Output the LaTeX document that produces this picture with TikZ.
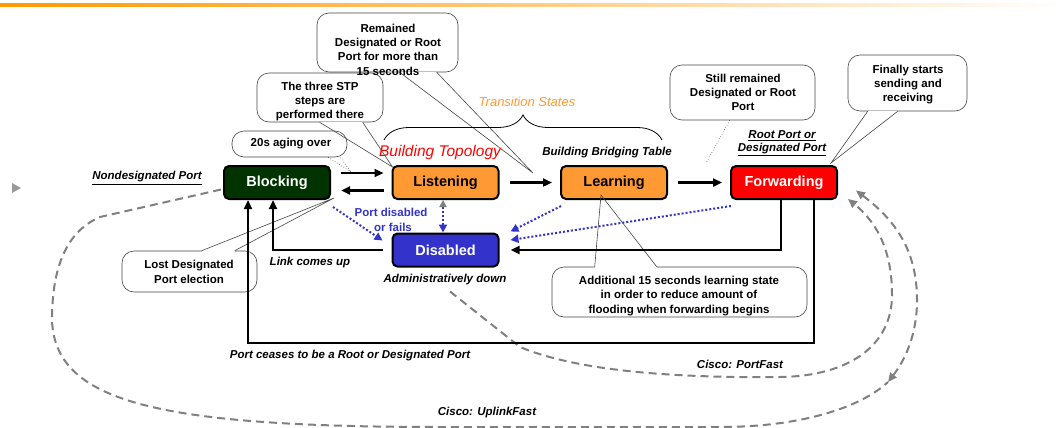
\documentclass[tikz,border=0pt]{standalone}
\usepackage{fontspec}
\setmainfont{Liberation Sans}
\usetikzlibrary{arrows.meta,calc,decorations.pathreplacing}

\definecolor{blockgreen}{RGB}{0,51,0}
\definecolor{transorange}{RGB}{255,153,51}
\definecolor{fwdred}{RGB}{255,0,0}
\definecolor{disblue}{RGB}{51,51,204}
\definecolor{dashgray}{RGB}{128,128,128}
\definecolor{calloutline}{RGB}{70,70,70}
\definecolor{barorange}{RGB}{255,153,0}

\begin{document}
\begin{tikzpicture}[x=1pt,y=-1pt,
  state/.style={draw=black, line width=2pt, rounded corners=5pt,
    minimum width=106pt, minimum height=33pt, inner sep=0pt,
    font=\fontsize{14.5}{16}\selectfont\bfseries},
  arr/.style={draw=black, line width=2.3pt, -{Triangle[length=9pt,width=8pt]}},
  bluedot/.style={draw=disblue, line width=2pt, dash pattern=on 2pt off 2pt,
    -{Triangle[length=8pt,width=8pt]}},
  graydash/.style={draw=dashgray, line width=2pt, dash pattern=on 8pt off 5pt},
  graytip/.style={-{Triangle[length=9pt,width=8pt,color=dashgray]}},
  lbl/.style={font=\fontsize{11.5}{13.5}\selectfont\bfseries\itshape, inner sep=0pt},
  callbox/.style={draw=calloutline, line width=0.6pt, fill=white,
    rounded corners=12pt, inner sep=0pt},
  calltext/.style={font=\fontsize{11.5}{14.3}\selectfont\bfseries, align=center, inner sep=0pt},
  pointer/.style={draw=calloutline, line width=0.6pt},
  gap/.style={draw=white, line width=1.6pt}
]
\useasboundingbox (0,0) rectangle (1062,428);

% header bar and bullet
\shade[left color=barorange, middle color=barorange!40!white, right color=white]
  (0,4) rectangle (1062,7);
\fill[dashgray!80] (12,183) -- (21,188) -- (12,193) -- cycle;

% state boxes (placed first so that everything can refer to them)
\path
  node[state, fill=blockgreen, text=white] (Blocking)   at (277,182.5) {Blocking}
  node[state, fill=transorange, text=black] (Listening) at (445.5,182.5) {Listening}
  node[state, fill=transorange, text=black] (Learning)  at (614,182.5) {Learning}
  node[state, fill=fwdred, text=white] (Forwarding)     at (784,182.5) {Forwarding}
  node[state, fill=disblue, text=white] (Disabled)      at (445.5,250) {Disabled};

% Cisco shortcuts (dashed)
\coordinate (ufMid) at (888,382);
\draw[graydash] ($(Blocking.west)+(-2,7)$) -- (100,217)
  .. controls (65,232) and (52,270) .. (52,320)
  .. controls (55,400) and (150,427) .. (440,427) -- (720,427)
  .. controls (800,427) and (860,408) .. (ufMid);
\draw[graydash, {Triangle[length=9pt,width=8pt,color=dashgray]}-{Triangle[length=9pt,width=8pt,color=dashgray]}]
  (ufMid) .. controls (905,360) and (917,335) .. (917,300)
  .. controls (917,250) and (895,220) .. ($(Forwarding.east)+(18,8)$);
\draw[graydash, graytip] ($(Disabled.south)+(4.5,24)$) -- (520,347)
  .. controls (580,372) and (680,378) .. (780,377)
  .. controls (850,376) and (892,345) .. (892,295)
  .. controls (892,255) and (880,225) .. ($(Forwarding.east)+(10,16.5)$);

% callouts
\node[callbox, minimum width=141pt, minimum height=59pt] (cRem) at (387.5,42.5) {};
\node[callbox, minimum width=126pt, minimum height=49pt] (cSTP) at (320,97.5) {};
\node[callbox, minimum width=115pt, minimum height=26pt] (c20s) at (289.5,144) {};
\node[callbox, minimum width=145pt, minimum height=55pt] (cStill) at (742.5,92.5) {};
\node[callbox, minimum width=119pt, minimum height=56pt] (cFin) at (907.5,83) {};
\node[callbox, minimum width=135pt, minimum height=41pt] (cLost) at (189.5,271.5) {};
\node[callbox, minimum width=255pt, minimum height=50pt] (cAdd) at (679.5,292) {};

\coordinate (tRem) at ($(Learning.west)+(-27,-9.5)$);
\coordinate (tSTP) at ($(Listening.north west)+(1,2)$);
\coordinate (t20s) at ($(Blocking.north east)+(20,7)$);
\coordinate (tStill) at ($(Forwarding.north west)+(-24,-2)$);
\coordinate (tFin) at ($(Forwarding.north east)+(-7,-2)$);
\coordinate (tLost) at ($(Blocking.south east)+(3,-2)$);
\coordinate (tAdd) at ($(Learning.south)+(-13,-5)$);

\draw[gap] ($(cRem.south west)+(83,0)$) -- ($(cRem.south west)+(120,0)$);
\draw[pointer] ($(cRem.south west)+(83,0)$) -- (tRem) -- ($(cRem.south west)+(120,0)$);
\draw[gap] ($(cSTP.south west)+(63,0)$) -- ($(cSTP.south west)+(106,0)$);
\draw[pointer] ($(cSTP.south west)+(63,0)$) -- (tSTP) -- ($(cSTP.south west)+(106,0)$);
\draw[pointer, dotted] ($(c20s.south east)+(-19,0)$) -- (t20s) -- ($(c20s.south east)+(-7,0)$);
\draw[pointer, dotted] ($(cStill.south west)+(60,0)$) -- (tStill);
\draw[gap] ($(cFin.south west)+(20,0)$) -- ($(cFin.south west)+(50,0)$);
\draw[pointer] ($(cFin.south west)+(20,0)$) -- (tFin) -- ($(cFin.south west)+(50,0)$);
\draw[gap] ($(cLost.north west)+(80,0)$) -- ($(cLost.north west)+(113,0)$);
\draw[pointer] ($(cLost.north west)+(80,0)$) -- (tLost) -- ($(cLost.north west)+(113,0)$);
\draw[gap] ($(cAdd.north west)+(43,0)$) -- ($(cAdd.north west)+(105,0)$);
\draw[pointer] ($(cAdd.north west)+(43,0)$) -- (tAdd) -- ($(cAdd.north west)+(105,0)$);

\node[calltext] at (388,49.5) {Remained\\Designated or Root\\Port for more than\\15 seconds};
\node[calltext] at (320,101.5) {The three STP\\steps are\\performed there};
\node[calltext] at (291,144) {20s aging over};
\node[calltext] at (743,92.5) {Still remained\\Designated or Root\\Port};
\node[calltext] at (908,84.5) {Finally starts\\sending and\\receiving};
\node[calltext] at (189,272) {Lost Designated\\Port election};
\node[calltext] at (679,296) {Additional 15 seconds learning state\\in order to reduce amount of\\flooding when forwarding begins};

% transition brace
\draw[line width=0.8pt, decorate, decoration={brace, amplitude=25pt}]
  (384,140) -- (662,140);

% solid transitions
\draw[arr] ($(Blocking.east)+(10,-9.5)$) -- ($(Listening.west)+(-8,-9.5)$);
\draw[arr] ($(Listening.west)+(-8,8)$) -- ($(Blocking.east)+(10,8)$);
\draw[arr] ($(Listening.east)+(10,0)$) -- ($(Learning.west)+(-8,0)$);
\draw[arr] ($(Learning.east)+(10,0)$) -- ($(Forwarding.west)+(-8,0)$);
\draw[arr] ($(Disabled.west)+(-9,0)$) -| ($(Blocking.south)+(-4,0)$);
\draw[arr] ($(Forwarding.south)+(-3,0)$) |- ($(Disabled.east)+(11,0)$);
\draw[arr] ($(Forwarding.south)+(30,0)$) -- ++(0,143) -| ($(Blocking.south)+(-29,0)$);

% disable transitions (dotted)
\draw[bluedot] ($(Blocking.south east)+(2,7)$) -- ($(Disabled.north west)+(-9,8)$);
\draw[bluedot, {Triangle[length=7pt,width=7pt,color=dashgray]}-{Triangle[length=8pt,width=8pt]}]
  ($(Listening.south)+(-2.5,0)$) -- ($(Disabled.north)+(-2.5,0)$);
\draw[bluedot] ($(Learning.south west)+(1,6)$) -- ($(Disabled.north east)+(11,-1)$);
\draw[bluedot] ($(Forwarding.south west)+(1,6)$) -- ($(Disabled.east)+(11,-10)$);

% labels
\node[lbl] at (147,178) {\underline{Nondesignated Port}};
\node[lbl, align=center, font=\fontsize{11.5}{13}\selectfont\bfseries\itshape] at (782,143.5)
  {\underline{Root Port or}\\\underline{Designated Port}};
\node[inner sep=0pt, text=fwdred, font=\fontsize{15.5}{17}\selectfont\itshape] at (440,152) {Building Topology};
\node[lbl] at (607,153) {Building Bridging Table};
\node[inner sep=0pt, text=transorange, font=\fontsize{13}{15}\selectfont\itshape] at (527,102) {Transition States};
\node[inner sep=0pt, text=disblue, align=center, font=\fontsize{11.5}{15}\selectfont\bfseries] at (391,219.5) {Port disabled\\\hspace*{4pt}or fails};
\node[lbl] at (310,263) {Link comes up};
\node[lbl] at (445,280) {Administratively down};
\node[lbl] at (350,356) {Port ceases to be a Root or Designated Port};
\node[lbl] at (740,364) {Cisco: PortFast};
\node[lbl] at (487,413) {Cisco: UplinkFast};
\end{tikzpicture}
\end{document}
